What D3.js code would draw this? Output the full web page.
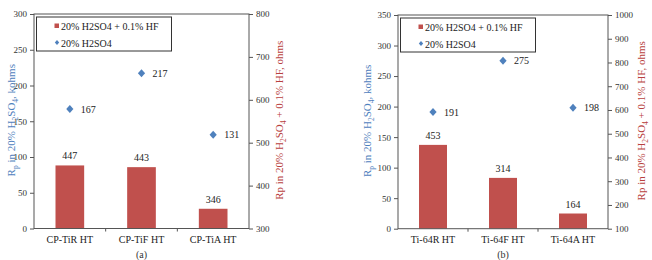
<!DOCTYPE html>
<html>
<head>
<meta charset="utf-8">
<script src="https://cdn.jsdelivr.net/npm/d3@7"></script>
<style>
  body { margin: 0; background: #fff; }
  svg { display: block; }
  svg text { font-family: "Liberation Serif", "Times New Roman", serif !important; }
</style>
</head>
<body>
<div id="chart"></div>
<script>
// data
let catsA = ["CP-TiR HT", "CP-TiF HT", "CP-TiA HT"];
let hfA = [447, 443, 346];
let acidA = [167, 217, 131];
let leftTicksA = [0, 50, 100, 150, 200, 250, 300];
let rightTicksA = [300, 400, 500, 600, 700, 800];

let catsB = ["Ti-64R HT", "Ti-64F HT", "Ti-64A HT"];
let hfB = [453, 314, 164];
let acidB = [191, 275, 198];
let leftTicksB = [0, 50, 100, 150, 200, 250, 300, 350];
let rightTicksB = [100, 200, 300, 400, 500, 600, 700, 800, 900, 1000];

let legendNames = ["20% H2SO4 + 0.1% HF", "20% H2SO4"];

let barColor = "#C0504D";
let dotColor = "#4F81BD";
let serif = "Liberation Serif, Times New Roman, serif";

let svg = d3.select("#chart")
    .append("svg")
    .attr("width", 652)
    .attr("height", 260)
    .attr("font-family", serif);

// rotated title with subscripts done by dy shifts
function addTitle(tx, ty, color, parts) {
    let t = svg.append("text")
        .attr("transform", `translate(${tx}, ${ty}) rotate(-90)`)
        .attr("text-anchor", "middle")
        .attr("font-family", serif)
        .attr("font-size", "11px")
        .attr("fill", color);
    let down = false;
    parts.forEach(pt => {
        let sub = pt[1];
        let dy = 0;
        if (sub && !down) { dy = 2.5; down = true; }
        else if (!sub && down) { dy = -2.5; down = false; }
        t.append("tspan")
            .attr("dy", dy)
            .attr("font-size", sub ? "7.5px" : "11px")
            .text(pt[0]);
    });
}

function drawPanel(p) {
    let w = p.right - p.left;
    let h = p.bottom - p.top;
    let g = svg.append("g")
        .attr("transform", `translate(${p.left}, ${p.top})`);

    let x = d3.scaleBand().domain(p.cats).range([0, w]);
    let yL = d3.scaleLinear()
        .domain(d3.extent(p.leftTicks))
        .range([h, 0]);
    let yR = d3.scaleLinear()
        .domain(d3.extent(p.rightTicks))
        .range([h, 0]);

    // bars (right axis)
    let bw = x.bandwidth() * 0.4;
    g.selectAll("rect.bar")
        .data(p.hf)
        .enter()
        .append("rect")
        .attr("class", "bar")
        .attr("x", (d, i) => x(p.cats[i]) + (x.bandwidth() - bw) / 2)
        .attr("y", d => yR(d))
        .attr("width", bw)
        .attr("height", d => h - yR(d))
        .attr("fill", barColor);

    g.selectAll("text.barlab")
        .data(p.hf)
        .enter()
        .append("text")
        .attr("x", (d, i) => x(p.cats[i]) + x.bandwidth() / 2)
        .attr("y", d => yR(d) - 6)
        .attr("text-anchor", "middle")
        .attr("font-size", "10px")
        .attr("fill", "#222")
        .text(d => d);

    // diamonds (left axis)
    g.selectAll("path.dot")
        .data(p.acid)
        .enter()
        .append("path")
        .attr("d", "M0,-4L3.6,0L0,4L-3.6,0Z")
        .attr("transform", (d, i) => `translate(${x(p.cats[i]) + x.bandwidth() / 2}, ${yL(d)})`)
        .attr("fill", dotColor);

    g.selectAll("text.dotlab")
        .data(p.acid)
        .enter()
        .append("text")
        .attr("x", (d, i) => x(p.cats[i]) + x.bandwidth() / 2 + 11)
        .attr("y", d => yL(d) + 3.5)
        .attr("font-size", "10px")
        .attr("fill", "#222")
        .text(d => d);

    // axes
    let leftAxis = d3.axisLeft(yL).tickValues(p.leftTicks).tickFormat(d3.format("d"))
        .tickSize(4).tickPadding(3);
    let rightAxis = d3.axisRight(yR).tickValues(p.rightTicks).tickFormat(d3.format("d"))
        .tickSize(4).tickPadding(3);

    let la = g.append("g").call(leftAxis);
    let ra = g.append("g").attr("transform", `translate(${w}, 0)`).call(rightAxis);
    [la, ra].forEach(a => {
        a.attr("font-family", serif).attr("font-size", "9px");
        a.select(".domain").remove();
        a.selectAll("line").attr("stroke", "#555");
        a.selectAll("text").attr("fill", "#333");
    });

    // category ticks between bands
    g.selectAll("line.xt")
        .data(p.cats.slice(1))
        .enter()
        .append("line")
        .attr("x1", d => x(d)).attr("x2", d => x(d))
        .attr("y1", h).attr("y2", h + 3)
        .attr("stroke", "#555");

    g.selectAll("text.cat")
        .data(p.cats)
        .enter()
        .append("text")
        .attr("x", d => x(d) + x.bandwidth() / 2)
        .attr("y", h + 14)
        .attr("text-anchor", "middle")
        .attr("font-size", "10px")
        .attr("fill", "#222")
        .text(d => d);

    // plot frame
    g.append("rect")
        .attr("width", w).attr("height", h)
        .attr("fill", "none")
        .attr("stroke", "#555")
        .attr("stroke-width", 1);

    // legend
    let lg = g.append("g").attr("transform", "translate(2.5, 3)");
    lg.append("rect")
        .attr("width", 135).attr("height", 34)
        .attr("fill", "#fff")
        .attr("stroke", "#333");
    lg.append("rect")
        .attr("x", 18).attr("y", 6.5)
        .attr("width", 4.5).attr("height", 4.5)
        .attr("fill", barColor);
    lg.append("path")
        .attr("d", "M0,-2.4L2.2,0L0,2.4L-2.2,0Z")
        .attr("transform", "translate(20.5, 25.5)")
        .attr("fill", dotColor);
    lg.selectAll("text.leg")
        .data(legendNames)
        .enter()
        .append("text")
        .attr("x", 24.5)
        .attr("y", (d, i) => 12.5 + i * 17)
        .attr("font-size", "10px")
        .attr("fill", "#222")
        .text(d => d);

    // axis titles
    addTitle(p.ltX, p.top + h / 2 - 1, "#4F81BD",
        [["R", false], ["p", true], [" in 20% H", false], ["2", true], ["SO", false], ["4", true], [", kohms", false]]);
    addTitle(p.rtX, p.top + h / 2 - 1, "#B8413E",
        [["Rp in 20% H", false], ["2", true], ["SO", false], ["4", true], [" + 0.1% HF, ohms", false]]);

    // sub-figure label at the bottom edge
    svg.append("text")
        .attr("x", p.left + w / 2)
        .attr("y", 257.5)
        .attr("text-anchor", "middle")
        .attr("font-size", "10px")
        .attr("fill", "#333")
        .text(p.tag);
}

drawPanel({
    cats: catsA, hf: hfA, acid: acidA,
    leftTicks: leftTicksA, rightTicks: rightTicksA,
    left: 34, right: 249, top: 14, bottom: 228.5,
    ltX: 15, rtX: 283, tag: "(a)"
});

drawPanel({
    cats: catsB, hf: hfB, acid: acidB,
    leftTicks: leftTicksB, rightTicks: rightTicksB,
    left: 398, right: 608, top: 15, bottom: 228.7,
    ltX: 371, rtX: 645, tag: "(b)"
});
</script>
</body>
</html>
